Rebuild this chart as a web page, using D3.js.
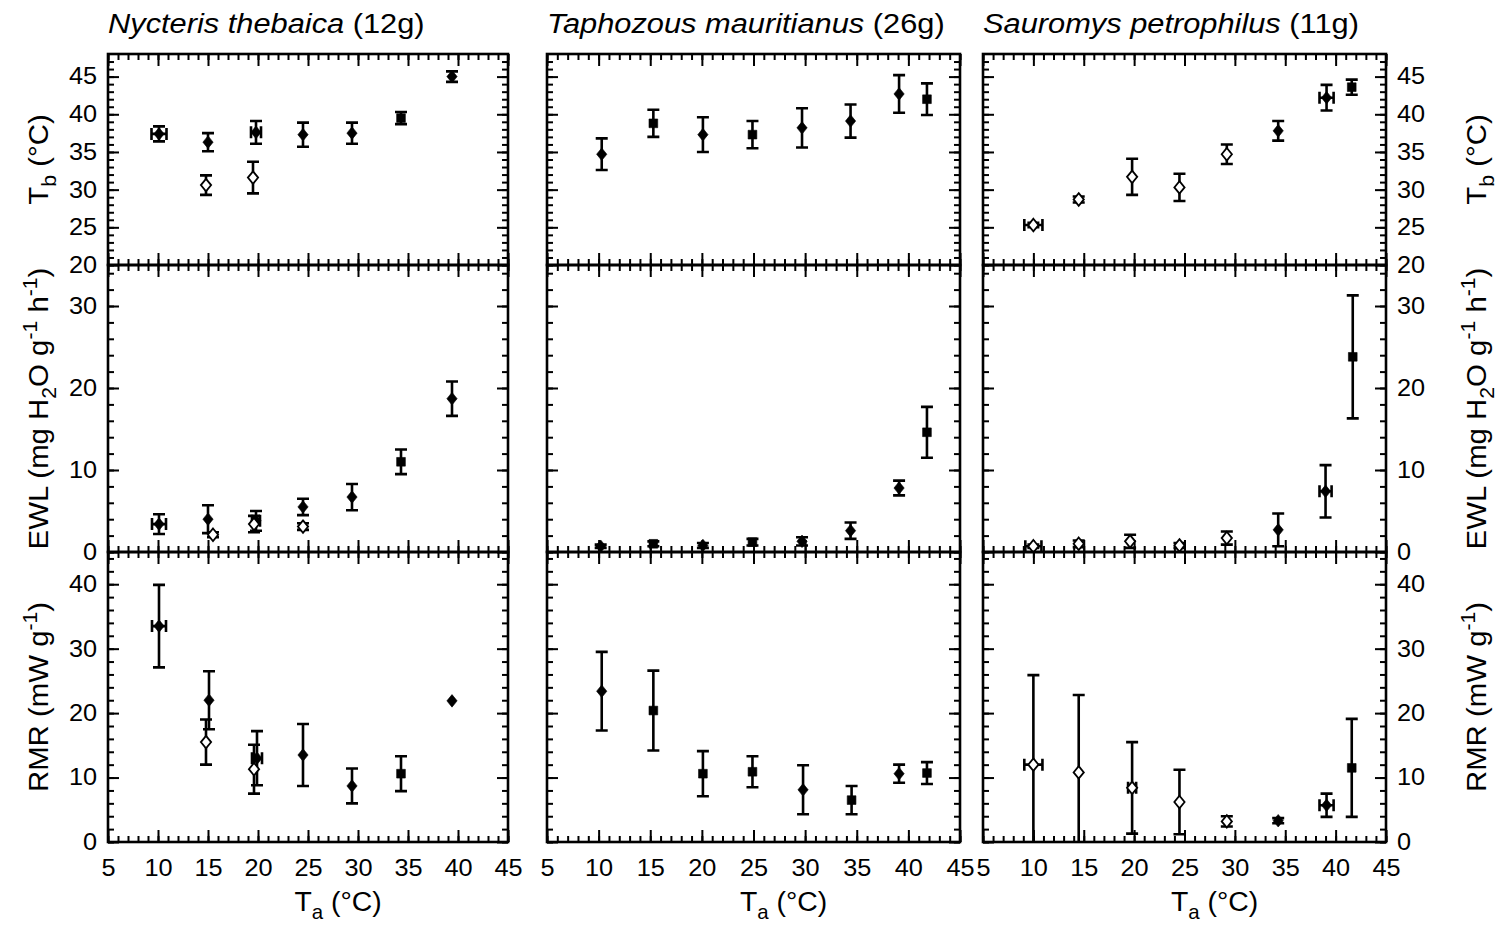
<!DOCTYPE html>
<html>
<head>
<meta charset="utf-8">
<script src="https://cdn.jsdelivr.net/npm/d3@7"></script>
<style>
  body { margin: 0; background: #fff; }
  svg text { font-family: "Liberation Sans", Arial, sans-serif; fill: #000; }
</style>
</head>
<body>
<div id="chart"></div>
<script>
// species shown in the three columns
const species = ["Nycteris thebaica", "Taphozous mauritianus", "Sauromys petrophilus"];
const masses = ["(12g)", "(26g)", "(11g)"];

// tick values
const taTicks = [5, 10, 15, 20, 25, 30, 35, 40, 45];
const tbTicks = [20, 25, 30, 35, 40, 45];
const ewlTicks = [0, 10, 20, 30];
const rmrTicks = [0, 10, 20, 30, 40];

// [Ta, mean, sd, Ta sd, marker]  marker: f = filled diamond, o = open diamond, s = filled square
const nycterisTb = [
  [10.1, 37.4, 1.0, 0.75, "f"], [15.0, 36.3, 1.2, 0, "f"], [14.8, 30.6, 1.3, 0, "o"],
  [19.8, 37.6, 1.5, 0.5, "f"], [19.5, 31.6, 2.1, 0, "o"], [24.5, 37.3, 1.6, 0, "f"],
  [29.4, 37.5, 1.4, 0, "f"], [34.3, 39.5, 0.8, 0, "s"], [39.4, 45.0, 0.7, 0, "f"]
];
const taphozousTb = [
  [10.3, 34.7, 2.1, 0, "f"], [15.3, 38.8, 1.8, 0, "s"], [20.1, 37.3, 2.3, 0, "f"],
  [24.9, 37.3, 1.8, 0, "s"], [29.7, 38.2, 2.6, 0, "f"], [34.4, 39.1, 2.2, 0, "f"],
  [39.1, 42.7, 2.5, 0, "f"], [41.8, 42.0, 2.1, 0, "s"]
];
const sauromysTb = [
  [10.0, 25.3, 0.3, 0.9, "o"], [14.5, 28.7, 0.4, 0, "o"], [19.8, 31.7, 2.4, 0, "o"],
  [24.5, 30.3, 1.8, 0, "o"], [29.2, 34.7, 1.3, 0, "o"], [34.3, 37.8, 1.3, 0, "f"],
  [39.1, 42.2, 1.7, 0.7, "f"], [41.6, 43.6, 1.0, 0, "s"]
];

const nycterisEwl = [
  [10.1, 3.4, 1.2, 0.7, "f"], [15.0, 4.0, 1.7, 0, "f"], [15.5, 2.1, 0.3, 0, "o"],
  [19.8, 3.8, 1.2, 0.4, "f"], [19.6, 3.4, 1.0, 0, "o"], [24.5, 5.5, 1.0, 0, "f"],
  [24.5, 3.1, 0.4, 0, "o"], [29.4, 6.7, 1.6, 0, "f"], [34.3, 11.0, 1.5, 0, "s"],
  [39.4, 18.7, 2.1, 0, "f"]
];
const taphozousEwl = [
  [10.2, 0.7, 0.2, 0, "f"], [15.3, 1.0, 0.3, 0, "s"], [20.1, 0.8, 0.3, 0, "f"],
  [24.9, 1.2, 0.4, 0, "s"], [29.7, 1.3, 0.5, 0, "f"], [34.4, 2.6, 1.0, 0, "f"],
  [39.1, 7.8, 0.9, 0, "f"], [41.8, 14.6, 3.1, 0, "s"]
];
const sauromysEwl = [
  [10.0, 0.7, 0.2, 0.8, "o"], [14.5, 1.0, 0.4, 0, "o"], [19.6, 1.3, 0.8, 0, "o"],
  [24.5, 0.8, 0.3, 0, "o"], [29.2, 1.7, 0.8, 0, "o"], [34.3, 2.7, 2.0, 0, "f"],
  [39.0, 7.4, 3.2, 0.6, "f"], [41.7, 23.8, 7.5, 0, "s"]
];

const nycterisRmr = [
  [10.1, 33.5, 6.4, 0.7, "f"], [15.1, 22.0, 4.5, 0, "f"], [14.8, 15.5, 3.5, 0, "o"],
  [19.9, 13.0, 4.2, 0.5, "f"], [19.6, 11.3, 3.8, 0, "o"], [24.5, 13.5, 4.8, 0, "f"],
  [29.4, 8.7, 2.7, 0, "f"], [34.3, 10.6, 2.7, 0, "s"], [39.4, 21.9, 0, 0, "f"]
];
const taphozousRmr = [
  [10.3, 23.4, 6.1, 0, "f"], [15.3, 20.4, 6.2, 0, "s"], [20.1, 10.6, 3.5, 0, "s"],
  [24.9, 10.9, 2.4, 0, "s"], [29.8, 8.1, 3.8, 0, "f"], [34.5, 6.5, 2.2, 0, "s"],
  [39.1, 10.6, 1.4, 0, "f"], [41.8, 10.7, 1.7, 0, "s"]
];
const sauromysRmr = [
  [10.0, 12.0, 13.9, 0.9, "o"], [14.5, 10.8, 12.0, 0, "o"], [19.8, 8.4, 7.1, 0.4, "o"],
  [24.5, 6.2, 5.0, 0, "o"], [29.2, 3.2, 0.8, 0, "o"], [34.3, 3.3, 0.4, 0, "f"],
  [39.1, 5.7, 1.8, 0.7, "f"], [41.6, 11.5, 7.6, 0, "s"]
];

const panels = [
  [nycterisTb, nycterisEwl, nycterisRmr],
  [taphozousTb, taphozousEwl, taphozousRmr],
  [sauromysTb, sauromysEwl, sauromysRmr]
];

const rows = [
  { domain: [20, 48], ticks: tbTicks, minor: d3.range(20, 48, 1),
    label: [["T"], ["b", "sub"], [" (°C)"]] },
  { domain: [0, 35], ticks: ewlTicks, minor: d3.range(0, 35, 2),
    label: [["EWL (mg H"], ["2", "sub"], ["O g"], ["-1", "sup"], [" h"], ["-1", "sup"], [")"]] },
  { domain: [0, 45], ticks: rmrTicks, minor: d3.range(0, 45, 2),
    label: [["RMR (mW g"], ["-1", "sup"], [")"]] }
];

// layout
const colX = [[108, 508], [547, 960], [983, 1386]];
const rowY = [[54, 265], [265, 552], [552, 842]];
const kTick = 1.1, kTitle = 1.1, kLabel = 1.05;

const svg = d3.select("#chart").append("svg")
  .attr("width", 1497).attr("height", 927);

const diamond = {
  draw(ctx, size) {
    const s = Math.sqrt(size), w = s * 0.45, h = s * 0.55;
    ctx.moveTo(0, -h); ctx.lineTo(w, 0); ctx.lineTo(0, h); ctx.lineTo(-w, 0); ctx.closePath();
  }
};
const diamondPath = d3.symbol().type(diamond).size(130)();
const squarePath = d3.symbol().type(d3.symbolSquare).size(76)();

function drawTicks(gen, values, size, tx, ty) {
  const a = svg.append("g")
    .attr("transform", `translate(${tx},${ty})`)
    .call(gen.tickValues(values).tickSize(-size).tickSizeOuter(0).tickFormat(""));
  a.select(".domain").remove();
  a.selectAll("line").attr("stroke", "#000").attr("stroke-width", 2);
}

function drawLabels(gen, values, pad, tx, ty) {
  const a = svg.append("g")
    .attr("transform", `translate(${tx},${ty})`)
    .call(gen.tickValues(values).tickSize(0).tickPadding(pad).tickFormat(d3.format("d")));
  a.attr("font-size", 23).attr("font-family", null);
  a.select(".domain").remove();
  a.selectAll("line").remove();
  a.selectAll("text").each(function() {
    const t = d3.select(this);
    const xx = +t.attr("x") || 0, yy = +t.attr("y") || 0;
    t.attr("x", null).attr("y", null)
      .attr("transform", `translate(${xx},${yy}) scale(${kTick},1)`);
  });
}

function richText(parts, x, y, size, rotate, k, anchor) {
  const t = svg.append("text")
    .attr("transform", `translate(${x},${y})${rotate ? " rotate(-90)" : ""} scale(${k},1)`)
    .attr("text-anchor", anchor || "middle")
    .attr("font-size", size);
  let shift = 0;
  parts.forEach(([s, kind]) => {
    const target = kind === "sub" ? 0.28 * size : kind === "sup" ? -0.38 * size : 0;
    const ts = t.append("tspan")
      .attr("dy", target - shift)
      .attr("font-size", kind === "sub" || kind === "sup" ? size * 0.72 : size)
      .text(s);
    if (kind === "it") ts.attr("font-style", "italic");
    shift = target;
  });
  return t;
}

species.forEach((sp, c) => {
  const [x0, x1] = colX[c];
  const x = d3.scaleLinear().domain([5, 45]).range([x0, x1]);

  // title
  richText([[sp, "it"], [" " + masses[c]]], x0, 33, 28, false, kTitle, "start");

  rows.forEach((row, r) => {
    const [y0, y1] = rowY[r];
    const y = d3.scaleLinear().domain(row.domain).range([y1, y0]);
    const pts = panels[c][r];
    const clipId = `clip-${c}-${r}`;

    svg.append("clipPath").attr("id", clipId)
      .append("rect").attr("x", x0).attr("y", y0)
      .attr("width", x1 - x0).attr("height", y1 - y0);

    // inward ticks on all four sides
    const taMinor = d3.range(5, 46, 1);
    drawTicks(d3.axisBottom(x), taMinor, 6, 0, y1);
    drawTicks(d3.axisBottom(x), taTicks, 12, 0, y1);
    drawTicks(d3.axisTop(x), taMinor, 6, 0, y0);
    drawTicks(d3.axisTop(x), taTicks, 12, 0, y0);
    drawTicks(d3.axisLeft(y), row.minor, 6, x0, 0);
    drawTicks(d3.axisLeft(y), row.ticks, 11, x0, 0);
    drawTicks(d3.axisRight(y), row.minor, 6, x1, 0);
    drawTicks(d3.axisRight(y), row.ticks, 11, x1, 0);

    if (c === 0) {
      drawLabels(d3.axisLeft(y), row.ticks, 11, x0, 0);
      richText(row.label, 48, (y0 + y1) / 2, 28, true, kLabel);
    }
    if (c === 2) {
      drawLabels(d3.axisRight(y), row.ticks, 11, x1, 0);
      richText(row.label, 1486, (y0 + y1) / 2, 28, true, kLabel);
    }
    if (r === 2) {
      drawLabels(d3.axisBottom(x), taTicks, 18, 0, y1);
      richText([["T"], ["a", "sub"], [" (°C)"]], (x0 + x1) / 2 + 30, 911, 27, false, kLabel);
    }

    const g = svg.append("g").attr("clip-path", `url(#${clipId})`);

    // vertical error bars
    g.selectAll(".ev").data(pts.filter(d => d[2] > 0)).join("path")
      .attr("class", "ev")
      .attr("d", d => {
        const px = x(d[0]), a = y(d[1] - d[2]), b = y(d[1] + d[2]);
        return `M${px},${a}V${b}M${px - 6},${a}h12M${px - 6},${b}h12`;
      })
      .attr("fill", "none").attr("stroke", "#000").attr("stroke-width", 2.6);

    // horizontal error bars
    g.selectAll(".eh").data(pts.filter(d => d[3] > 0)).join("path")
      .attr("class", "eh")
      .attr("d", d => {
        const py = y(d[1]), a = x(d[0] - d[3]), b = x(d[0] + d[3]);
        return `M${a},${py}H${b}M${a},${py - 6}v12M${b},${py - 6}v12`;
      })
      .attr("fill", "none").attr("stroke", "#000").attr("stroke-width", 2.6);

    // markers
    g.selectAll(".pt").data(pts).join("path")
      .attr("class", "pt")
      .attr("transform", d => `translate(${x(d[0])},${y(d[1])})`)
      .attr("d", d => d[4] === "s" ? squarePath : diamondPath)
      .attr("fill", d => d[4] === "o" ? "#fff" : "#000")
      .attr("stroke", "#000")
      .attr("stroke-width", d => d[4] === "o" ? 1.8 : 0.6);

    // frame
    svg.append("rect")
      .attr("x", x0).attr("y", y0)
      .attr("width", x1 - x0).attr("height", y1 - y0)
      .attr("fill", "none").attr("stroke", "#000").attr("stroke-width", 2.6);
  });
});
</script>
</body>
</html>
